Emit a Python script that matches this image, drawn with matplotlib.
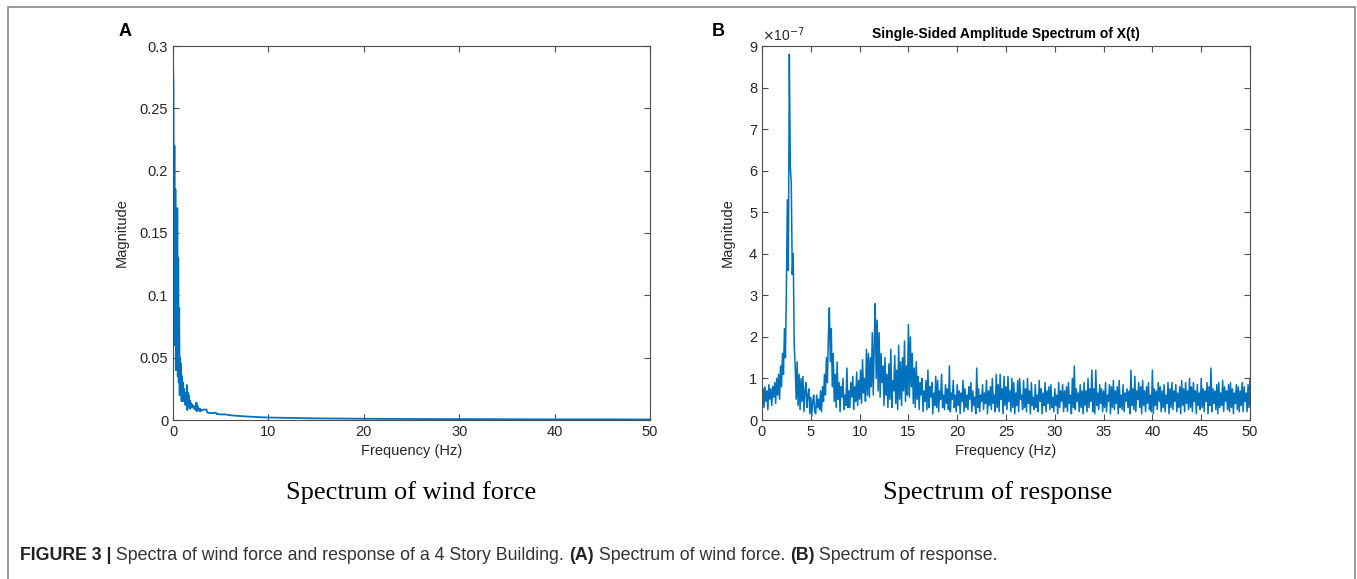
import numpy as np
import matplotlib
matplotlib.use('Agg')
import matplotlib.pyplot as plt
from matplotlib.lines import Line2D

# ── data ──────────────────────────────────────────────────────────────────────
# (A) wind force spectrum: noisy low-frequency part, then a smooth tail
freq_a_low = np.arange(0, 3.0, 0.05)
mag_a_low = [0.29, 0.27, 0.12, 0.22, 0.06, 0.185, 0.04, 0.15, 0.05, 0.17,
             0.035, 0.13, 0.03, 0.09, 0.02, 0.05, 0.03, 0.045, 0.015, 0.035,
             0.02, 0.03, 0.015, 0.025, 0.018, 0.022, 0.012, 0.02, 0.015, 0.028,
             0.008, 0.022, 0.012, 0.02, 0.01, 0.016, 0.009, 0.014, 0.01, 0.013,
             0.011, 0.012, 0.01, 0.011, 0.009, 0.011, 0.009, 0.01, 0.008, 0.014,
             0.007, 0.012, 0.008, 0.01, 0.008, 0.009, 0.007, 0.009, 0.007, 0.008]
freq_a_tail = [3.0, 3.5, 3.6, 4.0, 4.5, 4.6, 5.0, 5.5, 6.0, 7.0, 8.0, 9.0, 10,
               12, 15, 20, 25, 30, 35, 40, 45, 50]
mag_a_tail = [0.008, 0.0085, 0.006, 0.0055, 0.0058, 0.0048, 0.0045, 0.0045,
              0.0038, 0.0032, 0.0027, 0.0023, 0.002, 0.0017, 0.0013, 0.0010,
              0.0008, 0.0007, 0.0006, 0.0005, 0.0005, 0.0004]

# (B) response spectrum, 0.1 Hz steps, in units of 1e-7
freq_b = np.arange(0, 50.05, 0.1)
mag_b = [
    0.5, 0.75, 0.3, 0.8, 0.45, 0.7, 0.25, 0.85, 0.5, 0.75,      # 0
    0.35, 0.8, 0.55, 0.9, 0.4, 1.0, 0.6, 1.1, 0.5, 1.3,         # 1
    0.8, 1.6, 1.1, 2.2, 1.5, 3.2, 5.3, 3.6, 8.8, 6.1,           # 2
    5.7, 3.5, 4.0, 1.8, 1.3, 0.5, 1.4, 0.35, 1.1, 0.25,         # 3
    1.0, 0.45, 1.05, 0.2, 0.7, 0.9, 0.3, 0.6, 0.75, 0.15,       # 4
    0.55, 0.1, 0.45, 0.6, 0.2, 0.15, 0.6, 0.3, 0.5, 0.25,       # 5
    0.7, 0.2, 0.8, 0.45, 1.1, 0.6, 1.5, 0.9, 2.0, 2.7,          # 6
    1.4, 2.2, 0.8, 1.6, 0.45, 1.1, 0.3, 1.4, 0.5, 0.9,          # 7
    0.2, 0.8, 0.55, 1.0, 0.25, 0.6, 0.35, 1.25, 0.3, 0.7,       # 8
    0.3, 0.9, 0.55, 1.05, 0.25, 0.8, 0.45, 1.15, 0.35, 0.95,    # 9
    0.5, 1.2, 0.4, 1.45, 0.65, 1.0, 0.45, 1.7, 0.6, 1.6,        # 10
    0.55, 1.5, 0.8, 2.1, 0.6, 1.8, 2.8, 1.0, 2.4, 0.7,          # 11
    2.1, 0.55, 1.6, 0.9, 1.3, 0.35, 1.5, 0.6, 1.1, 0.3,         # 12
    1.35, 0.5, 1.7, 0.3, 0.95, 0.7, 1.55, 0.4, 1.2, 0.25,       # 13
    1.8, 0.5, 1.4, 0.35, 1.5, 0.7, 1.9, 0.45, 1.3, 0.6,         # 14
    2.3, 0.55, 2.0, 0.8, 1.6, 0.4, 1.25, 0.3, 1.4, 0.5,         # 15
    1.05, 0.25, 0.9, 0.6, 1.0, 0.2, 0.7, 0.45, 0.95, 0.25,      # 16
    1.2, 0.3, 0.8, 0.55, 0.9, 0.15, 0.65, 0.35, 1.05, 0.3,      # 17
    0.95, 0.2, 0.7, 0.5, 1.1, 0.3, 0.6, 0.25, 0.85, 0.4,        # 18
    0.75, 0.25, 1.3, 0.2, 0.65, 0.5, 0.95, 0.3, 0.6, 0.2,       # 19
    0.85, 0.35, 0.7, 0.15, 0.65, 0.45, 0.95, 0.2, 0.75, 0.3,    # 20
    0.6, 0.25, 0.8, 0.5, 0.9, 0.2, 0.7, 0.35, 0.55, 0.15,       # 21
    1.25, 0.3, 0.75, 0.2, 0.6, 0.45, 0.85, 0.25, 0.65, 0.4,     # 22
    0.95, 0.15, 0.7, 0.35, 0.8, 0.25, 1.0, 0.4, 0.6, 0.2,       # 23
    1.1, 0.3, 0.85, 0.2, 1.1, 0.5, 0.75, 0.15, 1.05, 0.35,      # 24
    0.8, 0.25, 1.05, 0.45, 0.7, 0.2, 1.0, 0.3, 0.9, 0.15,       # 25
    0.65, 0.35, 0.95, 0.2, 1.0, 0.5, 0.6, 0.25, 0.95, 0.3,      # 26
    0.75, 0.2, 1.0, 0.4, 0.7, 0.15, 0.9, 0.35, 0.55, 0.25,      # 27
    0.85, 0.3, 0.6, 0.2, 0.95, 0.45, 0.75, 0.15, 0.65, 0.35,    # 28
    0.9, 0.2, 0.7, 0.4, 0.8, 0.25, 0.85, 0.3, 0.55, 0.2,        # 29
    0.75, 0.35, 0.6, 0.15, 0.9, 0.3, 0.7, 0.45, 0.85, 0.2,      # 30
    0.7, 0.3, 0.8, 0.2, 0.9, 0.4, 0.6, 0.15, 1.0, 0.3,          # 31
    1.3, 0.25, 0.75, 0.45, 0.65, 0.2, 0.85, 0.3, 0.7, 0.15,     # 32
    0.9, 0.35, 0.7, 0.2, 1.0, 0.3, 0.75, 0.45, 1.2, 0.2,        # 33
    0.75, 0.15, 1.2, 0.35, 0.65, 0.25, 0.85, 0.4, 0.75, 0.2,    # 34
    0.7, 0.3, 0.9, 0.2, 0.6, 0.45, 0.85, 0.15, 0.8, 0.3,        # 35
    0.95, 0.25, 0.7, 0.4, 0.8, 0.15, 0.95, 0.3, 0.6, 0.25,      # 36
    0.85, 0.2, 0.65, 0.45, 0.75, 0.3, 0.7, 0.15, 1.2, 0.35,     # 37
    0.75, 0.25, 1.05, 0.2, 0.7, 0.5, 0.9, 0.3, 0.8, 0.15,       # 38
    0.95, 0.35, 0.7, 0.2, 0.8, 0.4, 0.9, 0.25, 0.6, 0.2,        # 39
    1.2, 0.15, 0.75, 0.35, 0.7, 0.25, 0.9, 0.45, 0.8, 0.2,      # 40
    0.7, 0.3, 0.85, 0.2, 0.6, 0.4, 0.9, 0.15, 0.75, 0.3,        # 41
    0.9, 0.25, 0.7, 0.45, 0.85, 0.2, 0.65, 0.3, 0.8, 0.15,      # 42
    0.95, 0.35, 0.75, 0.2, 0.9, 0.4, 0.7, 0.25, 1.0, 0.3,       # 43
    0.8, 0.2, 0.9, 0.45, 0.7, 0.15, 0.85, 0.35, 0.65, 0.25,     # 44
    1.0, 0.3, 0.75, 0.2, 0.7, 0.45, 0.9, 0.15, 0.8, 0.35,       # 45
    1.25, 0.2, 0.75, 0.4, 0.7, 0.25, 0.85, 0.15, 0.9, 0.3,      # 46
    0.65, 0.35, 0.95, 0.2, 0.8, 0.45, 0.7, 0.25, 0.85, 0.2,     # 47
    0.9, 0.3, 0.75, 0.15, 0.65, 0.4, 0.85, 0.25, 0.8, 0.2,      # 48
    0.7, 0.35, 0.9, 0.2, 0.8, 0.45, 0.65, 0.2, 0.85, 0.3,       # 49
    1.0,
]

yticks_a = [0, 0.05, 0.1, 0.15, 0.2, 0.25, 0.3]
yticklabels_a = ['0', '0.05', '0.1', '0.15', '0.2', '0.25', '0.3']
xticks_a = [0, 10, 20, 30, 40, 50]
yticks_b = list(range(0, 10))
xticks_b = list(range(0, 55, 5))

caption_parts = [
    ('FIGURE 3 |', 'bold', '#222222'),
    (' Spectra of wind force and response of a 4 Story Building. ', 'normal', '#333333'),
    ('(A)', 'bold', '#222222'),
    (' Spectrum of wind force. ', 'normal', '#333333'),
    ('(B)', 'bold', '#222222'),
    (' Spectrum of response.', 'normal', '#333333'),
]

LINE = '#0072BD'
AXC = '#4d4d4d'
plt.rcParams['font.family'] = ['Liberation Sans', 'DejaVu Sans']

W, H = 1357, 579
fig = plt.figure(figsize=(W / 100, H / 100), dpi=100)


def px_axes(l, t, r, b):
    return fig.add_axes([l / W, 1 - b / H, (r - l) / W, (b - t) / H])


def style(ax):
    for s in ax.spines.values():
        s.set_color(AXC)
        s.set_linewidth(0.8)
    ax.tick_params(direction='in', top=True, right=True, length=4,
                   width=0.8, color=AXC, labelcolor='#262626', labelsize=10.5)


# ── Panel A ───────────────────────────────────────────────────────────────────
axa = px_axes(173, 46, 650, 420)
axa.plot(np.concatenate([freq_a_low, freq_a_tail]), mag_a_low + mag_a_tail,
         color=LINE, linewidth=1.3)
axa.set_xlim(0, 50)
axa.set_ylim(0, 0.3)
axa.set_yticks(yticks_a)
axa.set_yticklabels(yticklabels_a)
axa.set_xticks(xticks_a)
axa.set_xlabel('Frequency (Hz)', fontsize=10.5, color='#262626', labelpad=4)
axa.set_ylabel('Magnitude', fontsize=10.5, color='#262626', labelpad=8)
style(axa)

# ── Panel B ───────────────────────────────────────────────────────────────────
axb = px_axes(762, 46, 1250, 420)
axb.plot(freq_b, mag_b, color=LINE, linewidth=1.1)
axb.set_xlim(0, 50)
axb.set_ylim(0, 9)
axb.set_yticks(yticks_b)
axb.set_xticks(xticks_b)
axb.set_xlabel('Frequency (Hz)', fontsize=10.5, color='#262626', labelpad=4)
axb.set_ylabel('Magnitude', fontsize=10.5, color='#262626', labelpad=10)
axb.set_title('Single-Sided Amplitude Spectrum of X(t)', fontsize=10,
              fontweight='bold', pad=6)
axb.text(0, 1.005, r'$\times$10$^{-7}$', transform=axb.transAxes,
         fontsize=10, color='#262626', ha='left', va='bottom')
style(axb)

# ── labels, captions, frame ───────────────────────────────────────────────────
fig.text(125 / W, 1 - 32 / H, 'A', fontsize=13, fontweight='bold',
         ha='center', va='center')
fig.text(718 / W, 1 - 32 / H, 'B', fontsize=13, fontweight='bold',
         ha='center', va='center')
fig.text(411 / W, 1 - 493 / H, 'Spectrum of wind force', fontsize=19,
         family='Liberation Serif', ha='center', va='center')
fig.text(998 / W, 1 - 493 / H, 'Spectrum of response', fontsize=19,
         family='Liberation Serif', ha='center', va='center')

# caption built from segments placed one after another
cap_y = 1 - 555 / H
x_px = 20
renderer = fig.canvas.get_renderer()
for txt, weight, col in caption_parts:
    t = fig.text(x_px / W, cap_y, txt, fontsize=12.8, fontweight=weight,
                 color=col, ha='left', va='center')
    x_px = t.get_window_extent(renderer).x1

fig.add_artist(Line2D([8 / W, 8 / W, 1355 / W, 1355 / W],
                      [0, 1 - 7 / H, 1 - 7 / H, 0],
                      transform=fig.transFigure, color='#888888', linewidth=1.2))

fig.savefig('out.png', dpi=100)
